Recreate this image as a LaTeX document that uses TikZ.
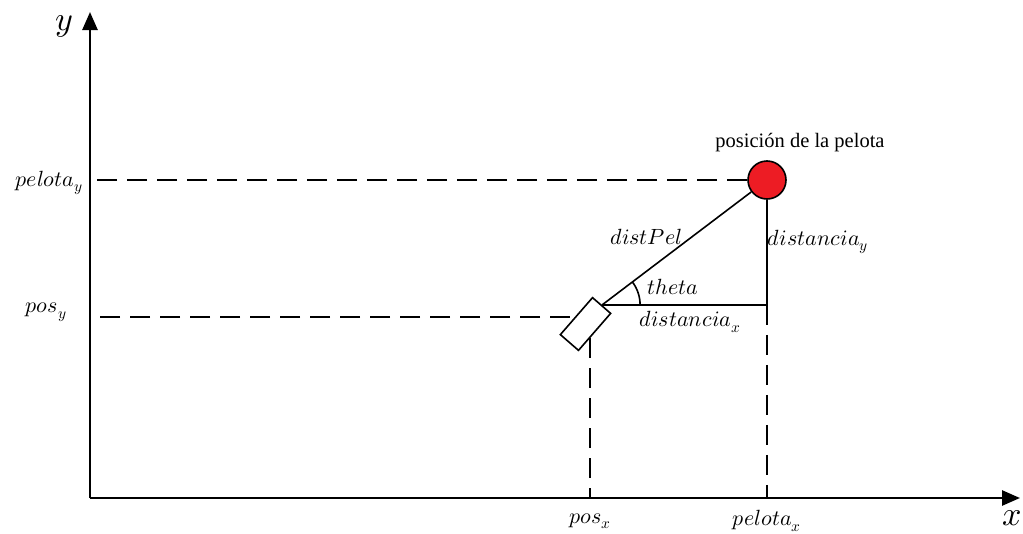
\documentclass[tikz,border=0pt]{standalone}
\usepackage{fontspec}
\usepackage{unicode-math}
\setmainfont{Liberation Serif}
\setmathfont{Latin Modern Math}
\usetikzlibrary{arrows.meta}
\definecolor{ballred}{RGB}{237,28,36}
\tikzset{
  axis/.style={line width=2.6pt,-{Triangle[length=18pt,width=15pt]}},
  solidline/.style={line width=1.6pt},
  guide/.style={line width=1.6pt,dash pattern=on 20pt off 10pt},
  lbl/.style={font=\fontsize{22}{26}\selectfont,inner sep=1pt},
  axlbl/.style={font=\fontsize{34}{38}\selectfont,inner sep=1pt}
}
\begin{document}
\begin{tikzpicture}[x=1pt,y=-1pt]
\useasboundingbox (0,0) rectangle (1023,533);
% axes
\coordinate (O) at (90,498);
\coordinate (ytip) at (90,12);
\coordinate (xtip) at (1020,498);
\draw[axis] (O) -- (ytip);
\draw[axis] (O) -- (xtip);
\node[axlbl] (ylab) at (64,26) {$y$};
\node[axlbl] (xlab) at (1012,518) {$x$};
% ball
\node[circle,draw,line width=1.6pt,fill=ballred,minimum size=38pt,inner sep=0pt] (ball) at (767,180) {};
\node[font=\fontsize{20.5}{24}\selectfont,inner sep=1pt] (balllab) at (800,143) {posición de la pelota};
% robot
\node[draw,line width=1.6pt,fill=white,rotate=49,minimum width=49pt,minimum height=24pt,inner sep=0pt] (cam) at (585.5,324) {};
% guides
\coordinate (py) at (92,180);
\coordinate (psy) at (92,317);
\coordinate (psyEnd) at (570,317);
\coordinate (psxTop) at (590,338);
\coordinate (psx) at (590,497);
\coordinate (D) at (cam.east -| ball);
\coordinate (pelx) at (767,497);
\draw[guide] (ball.west) -- (py);
\draw[guide] (psyEnd) -- (psy);
\draw[guide] (psxTop) -- (psx);
\draw[guide] (D) -- (pelx);
% triangle
\draw[solidline] (cam.east) -- (ball);
\draw[solidline] (cam.east) -- (D);
\draw[solidline] (D) -- (ball);
\draw[solidline] ([shift={(0:38pt)}]cam.east) arc[start angle=0,end angle=37,radius=38pt];
% labels
\node[lbl] (lpy) at (49,183) {$pelota_y$};
\node[lbl] (lpsy) at (46,312) {$pos_y$};
\node[lbl] (lpsx) at (590,521) {$pos_x$};
\node[lbl] (lpx) at (767,521) {$pelota_x$};
\node[lbl] (ldist) at (646,237) {$distPel$};
\node[lbl] (ldy) at (818,242) {$distancia_y$};
\node[lbl] (lth) at (673,287) {$theta$};
\node[lbl] (ldx) at (690,322) {$distancia_x$};
\end{tikzpicture}
\end{document}
